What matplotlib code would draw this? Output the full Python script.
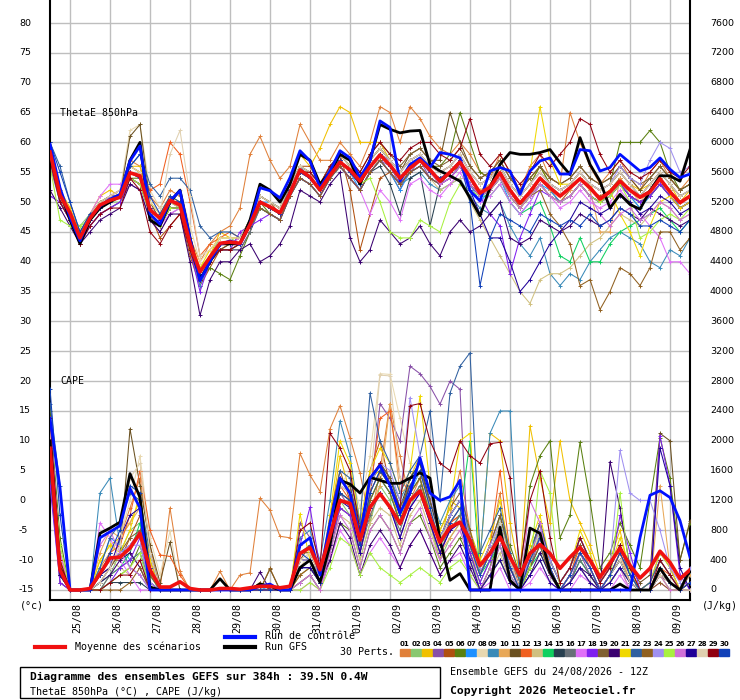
import matplotlib
matplotlib.use('Agg')
import matplotlib.pyplot as plt
from matplotlib.lines import Line2D
from matplotlib.patches import Rectangle
import numpy as np

# time axis: 65 steps of 6h from 24/08 12Z
hours = np.arange(65) * 6
day_ticks = np.arange(12, 384, 24)
dates = ['25/08', '26/08', '27/08', '28/08', '29/08', '30/08', '31/08', '01/09',
         '02/09', '03/09', '04/09', '05/09', '06/09', '07/09', '08/09', '09/09']

pert_colors = ['#e0803a', '#88c870', '#f0c000', '#8850a8', '#b05010', '#5a8010',
               '#1e90ff', '#e8d8b0', '#3a8ab8', '#e8a858', '#6a5020', '#f06020',
               '#d0c080', '#10d060', '#284050', '#687078', '#e070f8', '#8020f0',
               '#806030', '#3a0070', '#f0d800', '#3060a0', '#906020', '#a090f0',
               '#a8f040', '#d070d8', '#200098', '#e0d0b0', '#900010', '#1040b8']

# ---- ThetaE 850hPa (deg C) ----
theta_mean = [58.4, 51.2, 48.2, 44.0, 47.3, 49.5, 50.3, 50.8, 54.9, 54.4, 48.7, 47.3, 50.3,
              49.5, 43.1, 38.3, 40.8, 43.1, 43.3, 43.1, 46.2, 50.0, 49.2, 48.2, 51.5, 55.4,
              54.2, 52.0, 54.5, 56.7, 55.4, 53.5, 55.9, 57.9, 56.2, 54.0, 55.7, 57.0, 55.4,
              53.5, 55.0, 56.7, 54.2, 51.5, 52.5, 54.9, 52.0, 49.8, 51.7, 54.0, 52.4, 51.0,
              52.4, 53.9, 52.4, 50.5, 51.7, 53.5, 52.0, 50.8, 51.7, 53.9, 51.7, 49.9, 51.0]
theta_ctrl = [59.7, 52.4, 47.4, 43.5, 47.4, 49.3, 50.5, 51.3, 56.9, 59.4, 48.0, 46.3, 50.2,
              51.9, 44.0, 36.8, 40.1, 42.9, 43.5, 42.9, 46.3, 52.4, 51.9, 50.7, 54.1, 58.6,
              56.9, 52.4, 55.2, 58.6, 57.4, 54.1, 56.9, 63.6, 62.5, 53.5, 56.3, 57.4, 55.8,
              58.3, 58.0, 57.4, 51.9, 50.2, 55.2, 55.8, 55.2, 51.3, 55.2, 56.9, 57.4, 54.7,
              54.7, 58.8, 58.6, 55.2, 55.8, 58.0, 56.6, 55.2, 55.8, 57.4, 55.5, 54.1, 54.7]
theta_gfs = [59, 52, 47, 43, 47, 49, 50, 51, 57, 60, 47, 46, 50,
             52, 44, 37, 40, 43, 43, 43, 47, 53, 52, 50, 53, 58,
             57, 53, 55, 58, 57, 53, 57, 63.0, 62.2, 61.6, 61.9, 62.0, 56.3,
             55.2, 54.4, 53.5, 50.7, 47.7, 52.4, 56.3, 58.3, 58.0, 58.0, 58.3, 58.8, 56.6,
             54.6, 60.8, 56.3, 53.5, 49.0, 51.3, 49.6, 48.8, 51.9, 54.4, 54.4, 53.5, 58.8]

theta_p01 = [59, 52, 49, 44, 48, 50, 51, 52, 57, 56, 51, 49, 52,
             51, 44, 40, 43, 45, 46, 49, 58, 61, 57, 54, 56, 63,
             60, 57, 57, 60, 58, 56, 60, 66, 65, 60, 66, 64, 61,
             59, 58, 60, 58, 55, 54, 58, 55, 52, 56, 58, 54, 53,
             65, 60, 56, 53, 55, 57, 54, 52, 55, 57, 54, 52, 54]
theta_p02 = [57, 50, 47, 46, 48, 49, 50, 50, 54, 53, 48, 46, 49,
             49, 43, 39, 41, 44, 44, 43, 46, 49, 48, 47, 51, 54,
             53, 51, 54, 56, 54, 52, 55, 57, 55, 53, 55, 56, 54,
             53, 55, 57, 53, 51, 53, 55, 51, 49, 52, 54, 52, 50,
             51, 53, 51, 50, 52, 54, 51, 49, 51, 53, 51, 49, 50]
theta_p03 = [59, 52, 49, 45, 48, 51, 52, 51, 56, 56, 50, 48, 51,
             50, 44, 37, 41, 45, 44, 44, 47, 51, 50, 49, 53, 58,
             56, 59, 63, 66, 65, 60, 60, 60, 57, 55, 57, 58, 56,
             55, 56, 58, 55, 53, 54, 56, 53, 51, 53, 56, 53, 52,
             53, 55, 53, 52, 53, 55, 53, 52, 53, 55, 53, 50, 52]
theta_p04 = [56, 50, 47, 43, 46, 48, 49, 50, 53, 52, 47, 45, 48,
             49, 42, 37, 40, 42, 42, 42, 45, 49, 48, 47, 51, 54,
             53, 51, 54, 56, 54, 52, 55, 57, 56, 53, 55, 57, 54,
             53, 54, 56, 53, 51, 52, 54, 51, 49, 51, 53, 51, 50,
             51, 53, 51, 50, 51, 53, 51, 50, 51, 53, 51, 49, 50]
theta_p05 = [57, 51, 47, 43, 47, 49, 50, 51, 55, 54, 48, 44, 46,
             48, 41, 36, 39, 42, 43, 44, 47, 51, 50, 48, 53, 56,
             56, 53, 56, 58, 52, 42, 48, 54, 55, 52, 56, 57, 55,
             53, 55, 57, 54, 51, 52, 55, 52, 49, 51, 54, 52, 50,
             52, 54, 52, 51, 52, 54, 52, 51, 52, 54, 52, 50, 51]
theta_p06 = [58, 51, 47, 43, 47, 49, 50, 51, 54, 54, 49, 47, 50,
             49, 42, 37, 39, 38, 37, 41, 45, 50, 48, 47, 52, 55,
             54, 52, 55, 57, 55, 53, 56, 58, 57, 55, 57, 58, 56,
             56, 58, 65, 60, 55, 54, 56, 53, 51, 53, 56, 53, 52,
             53, 55, 53, 52, 53, 60, 60, 60, 62, 60, 55, 52, 53]
theta_p07 = [58, 52, 48, 44, 48, 49, 51, 52, 56, 55, 49, 47, 50,
             50, 43, 38, 41, 43, 43, 43, 46, 50, 50, 49, 52, 56,
             54, 52, 56, 57, 55, 52, 55, 57, 55, 52, 55, 56, 54,
             53, 55, 56, 53, 50, 52, 54, 50, 48, 50, 53, 52, 50,
             51, 53, 51, 50, 51, 53, 51, 49, 51, 53, 52, 49, 50]
theta_p08 = [59, 52, 48, 44, 48, 50, 51, 52, 62, 63, 52, 49, 50,
             52, 46, 40, 42, 44, 44, 44, 47, 51, 50, 49, 53, 56,
             55, 53, 56, 58, 56, 54, 57, 59, 57, 55, 57, 58, 56,
             55, 56, 58, 55, 53, 54, 56, 53, 51, 53, 55, 53, 52,
             53, 55, 53, 52, 53, 55, 53, 51, 53, 55, 53, 51, 52]
theta_p09 = [57, 50, 47, 44, 47, 49, 50, 51, 55, 54, 48, 46, 49,
             49, 42, 36, 40, 42, 42, 43, 46, 49, 48, 47, 51, 54,
             53, 51, 54, 56, 54, 52, 55, 57, 55, 53, 54, 55, 53,
             52, 53, 54, 51, 49, 48, 50, 46, 43, 41, 44, 38, 36,
             38, 37, 40, 42, 44, 45, 44, 43, 40, 39, 42, 41, 44]
theta_p10 = [58, 51, 48, 44, 47, 49, 51, 51, 55, 54, 49, 47, 50,
             50, 43, 38, 41, 43, 43, 44, 46, 50, 49, 48, 52, 55,
             54, 52, 55, 57, 55, 53, 56, 58, 56, 54, 56, 57, 55,
             54, 55, 57, 54, 52, 53, 55, 52, 50, 52, 54, 52, 51,
             52, 54, 52, 45, 45, 54, 52, 50, 52, 54, 52, 50, 51]
theta_p11 = [58, 51, 47, 43, 47, 49, 50, 51, 61, 63, 50, 47, 50,
             50, 43, 37, 40, 42, 43, 43, 46, 50, 49, 48, 52, 55,
             55, 53, 56, 58, 56, 54, 57, 59, 57, 55, 58, 59, 57,
             57, 65, 60, 56, 54, 55, 57, 54, 52, 54, 56, 54, 53,
             54, 56, 54, 53, 54, 56, 54, 52, 54, 56, 54, 52, 53]
theta_p12 = [59, 52, 48, 44, 48, 50, 51, 51, 56, 55, 52, 53, 60,
             58, 50, 41, 43, 44, 45, 44, 47, 51, 50, 49, 53, 56,
             55, 53, 56, 58, 56, 54, 57, 59, 57, 55, 57, 58, 56,
             55, 56, 58, 55, 53, 54, 56, 53, 51, 53, 55, 53, 52,
             53, 55, 53, 52, 53, 55, 53, 51, 53, 55, 53, 51, 52]
theta_p13 = [57, 51, 47, 44, 47, 49, 50, 51, 55, 54, 49, 47, 50,
             49, 42, 38, 41, 43, 43, 43, 46, 50, 49, 48, 52, 55,
             54, 52, 55, 57, 55, 53, 56, 57, 55, 53, 55, 56, 54,
             52, 53, 54, 50, 47, 44, 41, 38, 35, 33, 37, 38, 38,
             39, 41, 43, 44, 46, 48, 47, 46, 48, 50, 49, 47, 48]
theta_p14 = [58, 51, 48, 45, 47, 49, 50, 51, 54, 53, 48, 46, 49,
             49, 42, 38, 41, 43, 43, 43, 46, 49, 48, 47, 51, 54,
             53, 51, 54, 56, 54, 52, 55, 57, 55, 53, 55, 56, 54,
             53, 55, 56, 53, 51, 51, 53, 50, 48, 49, 50, 46, 41,
             40, 44, 40, 40, 43, 45, 46, 47, 48, 49, 47, 45, 47]
theta_p15 = [58, 51, 48, 44, 47, 49, 50, 51, 55, 54, 49, 47, 50,
             50, 43, 38, 41, 43, 43, 43, 46, 50, 49, 48, 52, 55,
             54, 52, 55, 56, 54, 52, 55, 56, 53, 48, 54, 55, 46,
             53, 54, 56, 53, 51, 52, 54, 51, 49, 51, 53, 51, 50,
             51, 53, 51, 50, 51, 53, 51, 50, 51, 53, 51, 49, 50]
theta_p16 = [57, 50, 47, 43, 46, 48, 49, 50, 54, 53, 48, 46, 49,
             49, 42, 37, 40, 42, 42, 42, 45, 49, 48, 47, 51, 54,
             53, 51, 54, 56, 54, 52, 55, 57, 55, 53, 55, 56, 54,
             53, 54, 56, 53, 51, 52, 54, 51, 49, 51, 53, 51, 50,
             51, 53, 51, 50, 51, 53, 51, 50, 51, 53, 51, 49, 50]
theta_p17 = [57, 51, 48, 44, 48, 51, 53, 53, 54, 53, 48, 46, 48,
             49, 42, 38, 41, 43, 43, 44, 47, 50, 49, 48, 52, 55,
             54, 52, 55, 56, 54, 52, 48, 52, 50, 47, 53, 54, 52,
             51, 53, 55, 52, 50, 51, 53, 50, 48, 50, 53, 51, 49,
             50, 52, 50, 49, 50, 52, 50, 48, 46, 44, 40, 40, 38]
theta_p18 = [51, 50, 47, 43, 46, 48, 49, 50, 54, 53, 48, 46, 49,
             49, 42, 35, 40, 42, 42, 45, 46, 47, 48, 47, 51, 54,
             53, 51, 54, 56, 54, 52, 55, 57, 55, 53, 55, 56, 54,
             53, 54, 56, 53, 51, 48, 46, 38, 44, 48, 52, 51, 50,
             51, 53, 51, 50, 51, 53, 51, 50, 51, 53, 51, 49, 50]
theta_p19 = [58, 51, 48, 44, 47, 49, 50, 51, 55, 54, 49, 47, 50,
             50, 43, 38, 41, 43, 43, 43, 46, 50, 49, 48, 52, 55,
             55, 53, 56, 58, 57, 55, 58, 60, 58, 56, 58, 59, 57,
             56, 57, 59, 56, 54, 55, 57, 54, 52, 54, 56, 54, 53,
             54, 56, 54, 53, 54, 56, 54, 53, 54, 56, 54, 52, 53]
theta_p20 = [52, 49, 46, 43, 45, 47, 48, 49, 53, 52, 47, 45, 48,
             48, 40, 31, 37, 40, 40, 42, 43, 40, 41, 43, 46, 52,
             51, 50, 53, 55, 44, 40, 42, 47, 45, 43, 44, 46, 43,
             41, 45, 47, 45, 46, 48, 50, 44, 43, 44, 47, 46, 45,
             46, 48, 47, 46, 47, 49, 48, 47, 49, 48, 47, 46, 47]
theta_p21 = [58, 52, 48, 45, 48, 50, 51, 52, 56, 55, 50, 48, 51,
             50, 44, 39, 42, 44, 44, 44, 47, 51, 50, 49, 53, 56,
             55, 53, 56, 58, 56, 54, 57, 59, 57, 55, 57, 58, 56,
             55, 56, 58, 55, 53, 54, 56, 53, 51, 55, 66, 57, 53,
             53, 55, 53, 50, 52, 48, 45, 41, 46, 50, 51, 49, 50]
theta_p22 = [60, 56, 50, 45, 48, 50, 51, 51, 56, 58, 53, 51, 54,
             54, 52, 46, 44, 45, 45, 44, 47, 51, 50, 49, 53, 56,
             55, 53, 56, 58, 56, 54, 57, 59, 57, 55, 57, 58, 56,
             55, 56, 58, 55, 53, 54, 56, 53, 51, 53, 55, 53, 52,
             53, 55, 53, 52, 53, 55, 53, 51, 53, 55, 53, 51, 52]
theta_p23 = [57, 51, 47, 43, 47, 49, 50, 51, 54, 53, 48, 46, 49,
             49, 42, 37, 40, 42, 42, 43, 46, 49, 48, 47, 51, 54,
             53, 51, 54, 56, 54, 52, 55, 57, 55, 53, 55, 56, 54,
             53, 55, 56, 53, 51, 52, 54, 51, 49, 51, 52, 48, 46,
             43, 36, 37, 32, 35, 39, 38, 36, 39, 45, 45, 42, 44]
theta_p24 = [58, 51, 48, 44, 47, 49, 50, 51, 55, 54, 49, 47, 50,
             50, 43, 38, 41, 43, 43, 43, 46, 50, 49, 48, 52, 55,
             54, 52, 55, 57, 55, 53, 56, 58, 57, 55, 57, 58, 56,
             55, 56, 58, 55, 53, 54, 56, 53, 51, 53, 55, 53, 52,
             53, 55, 53, 52, 53, 56, 54, 53, 57, 60, 59, 55, 56]
theta_p25 = [56, 47, 46, 46, 47, 49, 50, 51, 54, 53, 48, 46, 49,
             49, 42, 38, 41, 43, 43, 43, 46, 50, 49, 48, 52, 55,
             54, 52, 55, 57, 55, 53, 54, 50, 45, 44, 44, 47, 46,
             45, 50, 53, 52, 51, 52, 54, 51, 49, 51, 53, 51, 50,
             51, 53, 51, 50, 51, 53, 50, 44, 45, 47, 48, 47, 49]
theta_p26 = [58, 51, 48, 44, 47, 49, 51, 52, 55, 54, 49, 47, 50,
             50, 43, 38, 41, 43, 43, 43, 46, 50, 49, 48, 52, 55,
             54, 52, 55, 57, 55, 53, 56, 58, 56, 54, 56, 57, 55,
             53, 54, 56, 53, 51, 52, 54, 51, 49, 51, 53, 51, 50,
             51, 53, 51, 48, 46, 48, 49, 47, 48, 50, 49, 47, 48]
theta_p27 = [58, 51, 48, 44, 47, 49, 50, 51, 55, 54, 49, 47, 50,
             50, 43, 38, 41, 43, 43, 43, 46, 50, 49, 48, 52, 55,
             54, 52, 55, 57, 55, 53, 56, 58, 56, 54, 56, 57, 55,
             54, 55, 57, 52, 48, 44, 44, 40, 35, 37, 40, 43, 45,
             47, 50, 49, 48, 49, 51, 50, 48, 49, 51, 50, 48, 49]
theta_p28 = [59, 52, 48, 44, 48, 50, 51, 52, 56, 55, 50, 48, 58,
             62, 51, 41, 42, 44, 44, 44, 47, 51, 50, 49, 53, 56,
             55, 53, 56, 58, 56, 54, 57, 59, 57, 55, 57, 58, 56,
             55, 56, 58, 55, 53, 54, 56, 53, 51, 53, 55, 53, 52,
             53, 55, 53, 52, 53, 55, 53, 51, 53, 55, 53, 51, 52]
theta_p29 = [57, 50, 47, 43, 46, 48, 49, 49, 54, 52, 45, 43, 46,
             48, 42, 37, 40, 42, 42, 43, 46, 50, 49, 48, 52, 55,
             55, 53, 56, 58, 57, 55, 58, 60, 58, 57, 59, 60, 60,
             58, 57, 59, 64, 58, 56, 58, 55, 53, 55, 58, 56, 58,
             60, 64, 63, 58, 55, 57, 55, 54, 55, 57, 55, 54, 56]
theta_p30 = [60, 55, 50, 45, 48, 49, 50, 51, 56, 58, 51, 48, 51,
             50, 43, 38, 41, 43, 43, 43, 46, 50, 49, 48, 52, 55,
             54, 52, 55, 57, 55, 53, 56, 58, 56, 54, 56, 57, 55,
             54, 55, 57, 50, 36, 44, 48, 47, 46, 45, 48, 47, 46,
             47, 46, 48, 46, 47, 49, 48, 46, 46, 47, 46, 45, 47]

# ---- CAPE (J/kg) ----
cape_mean = [1900, 270, 0, 0, 20, 220, 430, 440, 560, 760, 270, 40, 40,
             110, 20, 0, 0, 20, 20, 10, 30, 50, 50, 30, 50, 490,
             570, 270, 730, 1200, 1160, 670, 1110, 1290, 1110, 890, 1200, 1330, 970,
             640, 840, 910, 670, 330, 490, 710, 440, 200, 490, 610, 490, 290,
             440, 570, 400, 170, 360, 560, 330, 160, 290, 520, 370, 150, 270]
cape_ctrl = [2300, 1370, 0, 0, 0, 700, 780, 860, 1360, 1100, 0, 0, 0,
             0, 0, 0, 0, 0, 0, 0, 0, 50, 80, 0, 0, 600,
             700, 200, 900, 1500, 1300, 700, 1500, 1670, 1400, 1030, 1300, 1770, 1300,
             1200, 1250, 1470, 0, 0, 0, 0, 0, 0, 0, 0, 0, 0,
             0, 0, 0, 0, 0, 0, 0, 700, 1270, 1330, 1240, 930, 440]
cape_gfs = [2000, 300, 0, 0, 0, 760, 830, 910, 1560, 1240, 40, 0, 0,
            0, 0, 0, 0, 150, 0, 0, 0, 80, 50, 0, 0, 300,
            400, 100, 600, 1470, 1420, 1300, 1510, 1470, 1430, 1430, 1500, 1570, 1500,
            670, 130, 220, 0, 0, 0, 840, 130, 0, 830, 760, 240, 0,
            0, 0, 0, 0, 0, 80, 0, 0, 0, 290, 100, 0, 270]

cape_p01 = [2100, 400, 0, 0, 0, 300, 500, 700, 1100, 1500, 600, 0, 1100,
            250, 0, 0, 0, 250, 0, 200, 230, 1230, 1070, 720, 700, 1830,
            1540, 1320, 2160, 2470, 2040, 1570, 900, 1600, 2500, 1800, 1200, 1500, 900,
            400, 1000, 1600, 800, 200, 600, 1300, 300, 0, 400, 900, 300, 0,
            200, 600, 300, 0, 200, 500, 100, 0, 0, 300, 100, 0, 0]
cape_p02 = [1800, 200, 0, 0, 0, 0, 200, 500, 800, 900, 100, 0, 0,
            0, 0, 0, 0, 0, 0, 0, 0, 0, 0, 0, 0, 200,
            300, 100, 600, 1200, 1000, 400, 900, 1400, 1200, 700, 1100, 1400, 900,
            400, 700, 900, 500, 0, 300, 1000, 400, 0, 300, 800, 300, 0,
            100, 400, 200, 0, 100, 300, 100, 0, 0, 200, 100, 0, 0]
cape_p03 = [2000, 300, 0, 0, 0, 400, 600, 700, 900, 1200, 300, 0, 0,
            0, 0, 0, 0, 0, 0, 0, 0, 0, 0, 0, 0, 600,
            700, 200, 900, 1800, 1300, 600, 1500, 1600, 1400, 900, 1500, 1800, 1000,
            600, 1200, 1100, 800, 400, 2100, 2000, 900, 200, 2200, 1500, 900, 2000,
            1200, 900, 600, 200, 400, 800, 200, 0, 0, 300, 100, 0, 0]
cape_p04 = [1700, 100, 0, 0, 0, 100, 300, 500, 600, 800, 200, 0, 0,
            0, 0, 0, 0, 0, 0, 0, 0, 0, 0, 0, 0, 900,
            700, 200, 800, 1300, 1100, 500, 1200, 2500, 2300, 2000, 3000, 2900, 2730,
            2490, 2800, 2690, 0, 0, 200, 600, 100, 0, 300, 700, 200, 0,
            100, 500, 200, 0, 200, 400, 100, 0, 0, 300, 100, 0, 0]
cape_p05 = [2200, 500, 0, 0, 0, 200, 400, 400, 700, 1000, 400, 0, 0,
            0, 0, 0, 0, 0, 0, 0, 0, 100, 0, 0, 0, 400,
            400, 100, 1000, 1600, 1200, 700, 1600, 2000, 1400, 1000, 1500, 1700, 1100,
            700, 900, 1000, 600, 200, 500, 800, 300, 0, 400, 700, 300, 0,
            200, 500, 300, 0, 200, 400, 100, 0, 0, 200, 100, 0, 0]
cape_p06 = [2400, 700, 0, 0, 0, 0, 100, 200, 300, 600, 100, 0, 0,
            0, 0, 0, 0, 0, 0, 0, 0, 0, 0, 0, 0, 100,
            200, 0, 400, 900, 800, 300, 800, 1000, 800, 500, 900, 1000, 700,
            300, 500, 700, 400, 0, 300, 700, 600, 200, 1400, 1800, 2000, 700,
            1000, 1980, 1200, 300, 500, 900, 600, 300, 1200, 2040, 1500, 400, 900]
cape_p07 = [1900, 300, 0, 0, 0, 300, 700, 600, 400, 500, 0, 0, 0,
            0, 0, 0, 0, 0, 0, 0, 0, 0, 50, 0, 0, 300,
            300, 100, 700, 1400, 1300, 700, 1200, 1500, 1300, 900, 1300, 1600, 1100,
            700, 1000, 1200, 700, 300, 500, 900, 400, 0, 500, 800, 400, 100,
            300, 700, 400, 100, 300, 600, 200, 0, 100, 500, 300, 0, 200]
cape_p08 = [2000, 300, 0, 0, 0, 200, 500, 700, 1200, 1800, 700, 200, 790,
            0, 0, 0, 0, 0, 0, 0, 0, 0, 0, 0, 0, 300,
            500, 200, 800, 1400, 1600, 1100, 1800, 2900, 2890, 2300, 1700, 1500, 1000,
            600, 900, 1100, 600, 200, 500, 900, 300, 0, 400, 800, 300, 0,
            200, 500, 300, 0, 200, 500, 100, 0, 0, 300, 100, 0, 0]
cape_p09 = [1900, 200, 0, 0, 0, 1300, 1500, 600, 300, 200, 0, 0, 0,
            0, 0, 0, 0, 0, 0, 0, 0, 0, 0, 0, 0, 700,
            800, 400, 1200, 2270, 1800, 900, 1400, 1700, 1500, 1200, 1500, 1700, 1300,
            900, 1200, 1400, 700, 400, 2100, 2400, 2400, 0, 300, 600, 200, 0,
            200, 500, 300, 0, 200, 400, 100, 0, 0, 200, 100, 0, 0]
cape_p10 = [1800, 300, 0, 0, 0, 500, 800, 700, 900, 1100, 200, 0, 0,
            0, 0, 0, 0, 0, 0, 0, 0, 0, 0, 0, 0, 200,
            300, 100, 600, 1100, 1000, 500, 1100, 1400, 2490, 1300, 1400, 1600, 1100,
            500, 700, 900, 500, 200, 500, 800, 300, 0, 400, 700, 300, 0,
            200, 500, 300, 0, 200, 500, 100, 0, 0, 1400, 300, 0, 200]
cape_p11 = [2100, 400, 0, 0, 0, 100, 300, 500, 2160, 1400, 600, 100, 640,
            0, 0, 0, 0, 0, 0, 0, 0, 0, 280, 0, 0, 400,
            600, 200, 900, 1500, 1300, 700, 1300, 1600, 1400, 1000, 1400, 1600, 1200,
            700, 1000, 1200, 700, 300, 600, 1000, 500, 100, 500, 900, 400, 100,
            300, 700, 400, 100, 300, 600, 300, 100, 200, 2100, 2000, 400, 930]
cape_p12 = [1900, 200, 0, 0, 0, 200, 500, 600, 1000, 1600, 800, 470, 450,
            200, 0, 0, 0, 0, 0, 0, 0, 0, 0, 0, 0, 500,
            500, 200, 900, 1400, 1200, 600, 1300, 2300, 2400, 1500, 1300, 1500, 1000,
            600, 900, 1000, 700, 300, 600, 1600, 500, 0, 400, 900, 300, 0,
            200, 600, 300, 0, 200, 500, 200, 0, 0, 300, 200, 0, 0]
cape_p13 = [1700, 200, 0, 0, 0, 300, 400, 300, 200, 400, 0, 0, 0,
            0, 0, 0, 0, 0, 0, 0, 0, 0, 0, 0, 0, 100,
            200, 0, 500, 1000, 900, 400, 900, 1100, 1000, 600, 1000, 1200, 800,
            400, 600, 800, 400, 0, 200, 500, 100, 0, 200, 400, 100, 0,
            100, 300, 100, 0, 100, 300, 0, 0, 0, 200, 0, 0, 0]
cape_p14 = [1600, 300, 0, 0, 0, 100, 200, 300, 500, 900, 200, 0, 0,
            0, 0, 0, 0, 0, 0, 0, 0, 0, 0, 0, 0, 300,
            300, 100, 700, 1300, 1200, 600, 1200, 1500, 1300, 900, 1300, 1500, 1000,
            600, 800, 1000, 2000, 200, 400, 600, 200, 0, 300, 500, 200, 0,
            100, 400, 200, 0, 100, 300, 100, 0, 0, 300, 100, 0, 0]
cape_p15 = [1800, 200, 0, 0, 0, 0, 100, 100, 100, 100, 0, 0, 0,
            0, 0, 0, 0, 0, 0, 0, 0, 0, 0, 0, 0, 400,
            400, 200, 800, 1500, 1400, 800, 1400, 1700, 1500, 1100, 1500, 1700, 1200,
            700, 1000, 1200, 600, 200, 500, 900, 400, 0, 400, 700, 300, 0,
            200, 500, 300, 0, 200, 400, 100, 0, 0, 200, 100, 0, 0]
cape_p16 = [1500, 100, 0, 0, 0, 0, 200, 300, 400, 500, 100, 0, 0,
            0, 0, 0, 0, 0, 0, 0, 0, 0, 0, 0, 0, 100,
            200, 0, 500, 1100, 1000, 500, 1000, 1300, 1100, 800, 1200, 1400, 900,
            500, 800, 1000, 500, 100, 400, 700, 300, 0, 300, 600, 200, 0,
            100, 400, 200, 0, 100, 300, 100, 0, 0, 200, 100, 0, 0]
cape_p17 = [2300, 500, 0, 0, 0, 900, 700, 400, 200, 0, 0, 0, 0,
            0, 0, 0, 0, 0, 0, 0, 0, 0, 0, 0, 0, 0,
            100, 0, 400, 800, 600, 200, 500, 700, 500, 300, 600, 800, 500,
            200, 400, 500, 200, 0, 100, 300, 0, 0, 100, 300, 100, 0,
            0, 200, 100, 0, 0, 200, 0, 0, 0, 100, 0, 0, 0]
cape_p18 = [1400, 100, 0, 0, 0, 0, 100, 300, 400, 700, 100, 0, 0,
            0, 0, 0, 0, 0, 0, 0, 0, 0, 0, 0, 0, 600,
            1110, 300, 600, 1100, 1000, 500, 1100, 1300, 1100, 700, 1100, 1300, 900,
            500, 800, 900, 500, 100, 400, 800, 300, 0, 400, 700, 300, 0,
            200, 500, 300, 0, 200, 1000, 500, 0, 0, 2070, 1400, 200, 0]
cape_p19 = [1800, 300, 0, 0, 0, 200, 300, 500, 700, 800, 200, 0, 0,
            0, 0, 0, 0, 0, 0, 0, 0, 100, 0, 0, 0, 500,
            500, 200, 900, 1500, 1400, 800, 1400, 1700, 1500, 1100, 1400, 1600, 1200,
            800, 1100, 1300, 800, 300, 600, 1000, 500, 100, 500, 900, 400, 100,
            300, 600, 400, 100, 300, 600, 200, 0, 100, 400, 200, 0, 100]
cape_p20 = [1600, 200, 0, 0, 0, 100, 200, 400, 500, 300, 0, 0, 0,
            0, 0, 0, 0, 0, 0, 0, 0, 240, 0, 0, 0, 300,
            300, 100, 400, 900, 700, 200, 600, 800, 600, 300, 600, 800, 500,
            200, 400, 600, 300, 0, 200, 400, 100, 0, 200, 500, 200, 0,
            100, 300, 200, 0, 1720, 1100, 300, 0, 0, 200, 100, 0, 0]
cape_p21 = [2000, 400, 0, 0, 0, 400, 600, 500, 800, 1300, 400, 0, 0,
            0, 0, 0, 0, 0, 0, 0, 0, 0, 0, 0, 0, 1020,
            400, 200, 1000, 2000, 1700, 900, 1600, 1900, 1700, 1300, 1600, 2600, 1400,
            800, 1100, 2000, 2100, 400, 700, 1200, 500, 100, 600, 1000, 400, 100,
            300, 800, 500, 100, 300, 700, 300, 0, 100, 500, 300, 0, 100]
cape_p22 = [2500, 1400, 0, 0, 0, 300, 700, 900, 1300, 1200, 500, 0, 0,
            0, 0, 0, 0, 0, 0, 0, 0, 0, 0, 0, 0, 500,
            600, 200, 900, 1600, 1500, 900, 2640, 2000, 1700, 1300, 1600, 1800, 2400,
            1200, 2640, 3000, 3180, 500, 800, 1100, 500, 100, 500, 900, 400, 100,
            300, 700, 400, 100, 300, 600, 200, 0, 100, 400, 200, 0, 100]
cape_p23 = [1900, 200, 0, 0, 0, 0, 0, 0, 100, 300, 0, 0, 0,
            0, 0, 0, 0, 0, 0, 0, 0, 0, 290, 0, 0, 200,
            300, 100, 700, 1300, 1200, 600, 1200, 1500, 1300, 900, 1300, 1500, 1000,
            600, 900, 1100, 600, 200, 500, 800, 300, 0, 300, 600, 200, 0,
            0, 0, 0, 0, 0, 0, 0, 0, 0, 100, 0, 0, 0]
cape_p24 = [1800, 300, 0, 0, 0, 200, 400, 500, 600, 600, 100, 0, 0,
            0, 0, 0, 0, 0, 0, 0, 0, 0, 0, 0, 0, 400,
            400, 200, 800, 1400, 1300, 700, 1400, 1700, 1600, 1200, 2580, 1800, 1300,
            700, 1000, 1200, 700, 300, 600, 900, 400, 0, 500, 800, 400, 100,
            300, 700, 400, 100, 300, 1870, 1300, 1200, 1200, 800, 300, 100, 300]
cape_p25 = [2000, 600, 0, 0, 0, 0, 100, 200, 300, 500, 0, 0, 0,
            0, 0, 0, 0, 0, 0, 0, 0, 0, 0, 0, 0, 0,
            100, 0, 300, 700, 600, 200, 500, 300, 200, 100, 200, 300, 200,
            100, 300, 400, 200, 0, 200, 400, 100, 0, 300, 1600, 1300, 0,
            100, 300, 100, 0, 100, 1300, 200, 0, 0, 200, 0, 0, 0]
cape_p26 = [2200, 300, 0, 0, 0, 600, 800, 500, 300, 200, 0, 0, 0,
            0, 0, 0, 0, 0, 0, 0, 0, 0, 0, 0, 0, 100,
            200, 0, 500, 1000, 800, 300, 800, 1000, 800, 500, 900, 1100, 700,
            400, 600, 800, 400, 0, 300, 600, 200, 0, 1200, 900, 200, 0,
            100, 300, 100, 0, 100, 300, 0, 0, 0, 200, 0, 0, 0]
cape_p27 = [1700, 200, 0, 0, 0, 200, 300, 700, 1000, 1100, 300, 0, 0,
            0, 0, 0, 0, 0, 0, 0, 0, 0, 0, 0, 0, 300,
            300, 100, 600, 1200, 1100, 500, 1100, 1300, 1100, 700, 1100, 1300, 900,
            500, 800, 900, 400, 0, 200, 400, 100, 0, 200, 400, 100, 0,
            100, 300, 100, 0, 100, 300, 100, 0, 0, 1900, 1400, 300, 0]
cape_p28 = [2100, 300, 0, 0, 0, 100, 300, 600, 1500, 1700, 500, 0, 0,
            0, 0, 0, 0, 0, 0, 0, 0, 0, 0, 0, 0, 400,
            500, 200, 800, 1400, 1300, 700, 1400, 2880, 2870, 1500, 1400, 1600, 1100,
            700, 900, 1100, 600, 200, 500, 900, 400, 0, 400, 700, 300, 0,
            200, 500, 300, 0, 200, 400, 100, 0, 0, 200, 100, 0, 0]
cape_p29 = [2300, 400, 0, 0, 0, 0, 100, 200, 200, 400, 0, 0, 0,
            0, 0, 0, 0, 0, 0, 0, 0, 0, 0, 0, 0, 800,
            900, 300, 2100, 1900, 1600, 800, 1500, 1700, 1400, 1100, 2470, 2500, 2000,
            1700, 1600, 2000, 1800, 1700, 1960, 1980, 1500, 300, 1200, 1600, 700, 100,
            300, 700, 400, 100, 300, 600, 300, 0, 0, 400, 200, 0, 100]
cape_p30 = [2700, 1000, 0, 0, 0, 200, 500, 800, 1400, 1300, 300, 0, 0,
            0, 0, 0, 0, 0, 0, 0, 0, 0, 0, 0, 0, 500,
            400, 100, 700, 1300, 1200, 600, 1300, 1600, 1400, 1000, 1400, 1600, 1100,
            600, 900, 1100, 600, 200, 500, 800, 300, 0, 400, 700, 300, 0,
            200, 500, 300, 0, 200, 500, 200, 0, 0, 300, 100, 0, 100]

theta_perts = [theta_p01, theta_p02, theta_p03, theta_p04, theta_p05, theta_p06,
               theta_p07, theta_p08, theta_p09, theta_p10, theta_p11, theta_p12,
               theta_p13, theta_p14, theta_p15, theta_p16, theta_p17, theta_p18,
               theta_p19, theta_p20, theta_p21, theta_p22, theta_p23, theta_p24,
               theta_p25, theta_p26, theta_p27, theta_p28, theta_p29, theta_p30]
cape_perts = [cape_p01, cape_p02, cape_p03, cape_p04, cape_p05, cape_p06,
              cape_p07, cape_p08, cape_p09, cape_p10, cape_p11, cape_p12,
              cape_p13, cape_p14, cape_p15, cape_p16, cape_p17, cape_p18,
              cape_p19, cape_p20, cape_p21, cape_p22, cape_p23, cape_p24,
              cape_p25, cape_p26, cape_p27, cape_p28, cape_p29, cape_p30]

MONO = 'DejaVu Sans Mono'
plt.rcParams['font.family'] = 'DejaVu Sans'
W, H = 740, 700

def fx(x):
    return x / W

def fy(y):
    return 1 - y / H

fig = plt.figure(figsize=(W / 100, H / 100), dpi=100)
ax = fig.add_axes([50 / W, 100 / H, 640 / W, 600 / H])
ax2 = ax.twinx()

# left scale: -15 at 590px, 5.968 px per degree ; right scale = (left + 15) * 80
ylo, yhi = -15 - 10 / 5.968, -15 + 590 / 5.968
ax.set_ylim(ylo, yhi)
ax2.set_ylim((ylo + 15) * 80, (yhi + 15) * 80)
ax.set_xlim(0, 384)

ax.set_xticks(day_ticks)
ax.set_yticks(np.arange(-15, 81, 5))
ax.grid(True, color='#bebebe', lw=1.0)
ax.set_axisbelow(True)
ax.tick_params(length=0, labelleft=False, labelbottom=False)
ax2.set_yticks([])
ax2.tick_params(length=0, labelright=False)
for s in ax2.spines.values():
    s.set_visible(False)
ax.spines['top'].set_visible(False)
for s in ('left', 'right', 'bottom'):
    ax.spines[s].set_linewidth(1.5)
    ax.spines[s].set_color('black')

for vals, col in zip(theta_perts, pert_colors):
    ax.plot(hours, vals, color=col, lw=0.75, marker='+', ms=3, mew=0.7)
for vals, col in zip(cape_perts, pert_colors):
    ax2.plot(hours, vals, color=col, lw=0.75, marker='+', ms=3, mew=0.7)

ax.plot(hours, theta_gfs, color='black', lw=2.0, zorder=5)
ax.plot(hours, theta_ctrl, color='#0010ff', lw=2.0, zorder=6)
ax.plot(hours, theta_mean, color='#f01010', lw=2.6, zorder=7)
ax2.plot(hours, cape_gfs, color='black', lw=2.0, zorder=5)
ax2.plot(hours, cape_ctrl, color='#0010ff', lw=2.0, zorder=6)
ax2.plot(hours, cape_mean, color='#f01010', lw=2.6, zorder=7)

# axis labels
for v in range(-15, 81, 5):
    ax.text(-31 / 640, v, str(v), transform=ax.get_yaxis_transform(),
            ha='left', va='center', fontsize=6.8)
    ax2.text(660 / 640, (v + 15) * 80, str((v + 15) * 80),
             transform=ax2.get_yaxis_transform(), ha='left', va='center', fontsize=6.8)
for t, d in zip(day_ticks, dates):
    ax.text(t + 4.2, -0.005, d, transform=ax.get_xaxis_transform(), rotation=90,
            ha='center', va='top', family=MONO, fontsize=7.2)
fig.text(fx(20), fy(606), '(°c)', ha='left', va='center', family=MONO, fontsize=7.2)
fig.text(fx(702), fy(606), '(J/kg)', ha='left', va='center', family=MONO, fontsize=7.2)

ax.text(6, 65, 'ThetaE 850hPa', ha='left', va='center', family=MONO, fontsize=7.1)
ax.text(6, 20, 'CAPE', ha='left', va='center', family=MONO, fontsize=7.1)

# legend
fig.add_artist(Line2D([fx(35), fx(65)], [fy(647), fy(647)], color='#f01010', lw=3))
fig.text(fx(75), fy(647), 'Moyenne des scénarios', ha='left', va='center',
         family=MONO, fontsize=7.2)
fig.add_artist(Line2D([fx(225), fx(255)], [fy(637), fy(637)], color='#0010ff', lw=3))
fig.text(fx(265), fy(636), 'Run de contrôle', ha='left', va='center',
         family=MONO, fontsize=7.2)
fig.add_artist(Line2D([fx(225), fx(255)], [fy(647), fy(647)], color='black', lw=3))
fig.text(fx(265), fy(647), 'Run GFS', ha='left', va='center', family=MONO, fontsize=7.2)
fig.text(fx(340), fy(652), '30 Perts.', ha='left', va='center', family=MONO, fontsize=7.2)
for k, col in enumerate(pert_colors):
    x0 = 400 + 11 * k
    fig.add_artist(Rectangle((fx(x0), fy(656)), 10 / W, 7 / H, color=col,
                             transform=fig.transFigure))
    fig.text(fx(x0 + 5), fy(644), '%02d' % (k + 1), ha='center', va='center',
             fontsize=5, fontweight='bold')

fig.add_artist(Rectangle((fx(20), fy(698)), 420 / W, 31 / H, fill=False,
                         ec='black', lw=1, transform=fig.transFigure))
fig.text(fx(30), fy(677), 'Diagramme des ensembles GEFS sur 384h : 39.5N 0.4W',
         ha='left', va='center', family=MONO, fontsize=8.1, fontweight='bold')
fig.text(fx(30), fy(692), 'ThetaE 850hPa (°C) , CAPE (J/kg)', ha='left', va='center',
         family=MONO, fontsize=7.2)
fig.text(fx(450), fy(672), 'Ensemble GEFS du 24/08/2026 - 12Z', ha='left', va='center',
         family=MONO, fontsize=7.2)
fig.text(fx(450), fy(691), 'Copyright 2026 Meteociel.fr', ha='left', va='center',
         family=MONO, fontsize=8.2, fontweight='bold')

fig.savefig('out.png', dpi=100, facecolor='white')
